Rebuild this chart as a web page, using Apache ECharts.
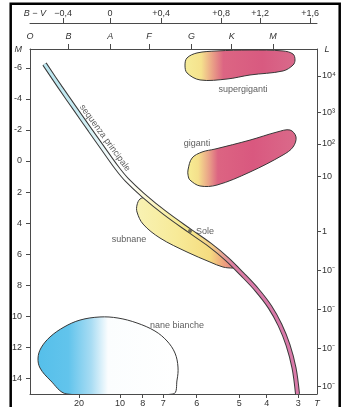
<!DOCTYPE html>
<html><head><meta charset="utf-8">
<script src="https://cdn.jsdelivr.net/npm/echarts@6/dist/echarts.min.js"></script>
<style>html,body{margin:0;padding:0;background:#fff}#c{width:341px;height:407px}</style>
</head><body><div id="c"></div>
<script>
// ---- axes (x in spectral-class units, y in absolute magnitude M) ----
const spectralClasses = ['O', 'B', 'A', 'F', 'G', 'K', 'M'];
const spectralPos = [0, 0.95, 1.98, 2.94, 3.99, 4.98, 6.0];
const bvLabels = ['−0,4', '0', '+0,4', '+0,8', '+1,2', '+1,6'];
const bvPos = [0.815, 1.975, 3.235, 4.716, 5.679, 6.914];
const tempLabels = ['20', '10', '8', '7', '6', '5', '4', '3'];
const tempPos = [1.21, 2.222, 2.783, 3.292, 4.115, 5.168, 5.844, 6.625];
const magTicks = [-6, -4, -2, 0, 2, 4, 6, 8, 10, 12, 14];
const lumLabels = ['10⁴', '10³', '10²', '10', '1', '10⁻', '10⁻', '10⁻', '10⁻'];
const lumPos = [-5.484, -3.116, -1.097, 0.968, 4.561, 7.032, 9.548, 12.084, 14.561];
const xMin = 0, xMax = 7.086, mTop = -7.226, mBottom = 15.03;

// ---- main sequence ----
const msX = [0.358, 0.741, 1.136, 1.481, 1.778, 2.148, 2.395, 2.790, 3.333, 3.951, 4.444, 4.864, 5.235, 5.605, 5.926, 6.173, 6.370, 6.519, 6.605];
const msM = [-6.258, -4.774, -3.290, -2.000, -0.903, 0.452, 1.226, 2.194, 3.355, 4.516, 5.419, 6.323, 7.290, 8.323, 9.419, 10.581, 11.871, 13.355, 15.03];

// ---- regions (outlines) ----
const superX = [3.827, 3.877, 4.123, 4.617, 5.432, 6.247, 6.494, 6.543, 6.494, 6.247, 5.432, 4.864, 4.198, 3.877];
const superM = [-6.19, -6.65, -6.97, -7.10, -7.16, -7.10, -6.90, -6.52, -6.19, -5.81, -5.55, -5.29, -5.23, -5.68];
const giantX = [3.901, 4.000, 4.247, 4.568, 5.432, 6.099, 6.420, 6.568, 6.494, 6.247, 5.432, 4.617, 4.198, 3.951, 3.905];
const giantM = [0.58, -0.19, -0.58, -0.77, -1.35, -1.87, -2.00, -1.55, -0.90, -0.39, 0.71, 1.55, 1.61, 1.23, 0.95];
const subX = [2.716, 2.642, 2.642, 2.790, 3.210, 3.877, 4.444, 4.765, 5.012, 5.136, 4.864, 4.444, 3.951, 3.333, 2.864];
const subM = [2.452, 2.839, 3.290, 4.065, 4.968, 5.871, 6.516, 6.839, 6.903, 6.839, 6.323, 5.419, 4.516, 3.355, 2.387];
const wdX = [0.914, 0.494, 0.247, 0.198, 0.272, 0.494, 0.840, 1.235, 1.728, 2.173, 2.642, 3.086, 3.383, 3.580, 3.654, 3.630, 3.531];
const wdM = [15.03, 14.13, 13.35, 12.71, 12.06, 11.35, 10.71, 10.26, 10.06, 10.13, 10.45, 10.97, 11.61, 12.39, 13.29, 14.13, 15.03];

// ---- Sun and annotations ----
const sunX = 3.951, sunM = 4.516;
const regionNames = ['supergiganti', 'giganti', 'subnane', 'nane bianche', 'sequenza principale'];
const regionX = [5.259, 4.123, 2.444, 3.63, 1.852];
const regionM = [-4.581, -1.161, 5.032, 10.58, -1.484];

const font = 'Liberation Sans, Arial, sans-serif';
const axisColor = '#4a4a4a';
const textColor = '#333';
function idx(arr, v) { let b = 0, d = 1e9; arr.forEach((a, i) => { const e = Math.abs(a - v); if (e < d) { d = e; b = i; } }); return b; }
const rich = { i: { fontStyle: 'italic', fontSize: 9, color: textColor, fontFamily: font } };

function blob(xs, ms, stops, z) {
  return {
    type: 'custom', xAxisIndex: 0, yAxisIndex: 0, silent: true, clip: true, z: z,
    data: [[xs[0], ms[0]]],
    renderItem: function (params, api) {
      const pts = xs.map((x, i) => api.coord([x, ms[i]]));
      return {
        type: 'polygon',
        shape: { points: pts, smooth: 0.35 },
        style: { fill: new echarts.graphic.LinearGradient(0, 0, 1, 0, stops), stroke: '#383838', lineWidth: 1 }
      };
    }
  };
}
const msData = msX.map((x, i) => [x, msM[i]]);

const chart = echarts.init(document.getElementById('c'), null, { renderer: 'canvas' });
chart.setOption({
  animation: false,
  backgroundColor: '#fff',
  grid: { left: 30, top: 49, right: 24, bottom: 13, containLabel: false, outerBoundsMode: 'none' },
  xAxis: [
    {
      type: 'value', min: xMin, max: xMax, position: 'top', offset: 0,
      axisLine: { show: true, onZero: false, lineStyle: { color: axisColor, width: 1 } },
      axisTick: { show: true, customValues: spectralPos.slice(1), length: 5, lineStyle: { color: axisColor } },
      axisLabel: { show: true, customValues: spectralPos, margin: 8, fontSize: 9, color: textColor, fontFamily: font, fontStyle: 'italic',
        formatter: v => spectralClasses[idx(spectralPos, v)] },
      splitLine: { show: false }
    },
    {
      type: 'value', min: xMin, max: xMax, position: 'top', offset: 26,
      axisLine: { show: true, onZero: false, lineStyle: { color: axisColor, width: 1 } },
      axisTick: { show: true, customValues: bvPos, length: 5, lineStyle: { color: axisColor } },
      axisLabel: { show: true, customValues: [0.12].concat(bvPos), margin: 5, fontSize: 9, color: textColor, fontFamily: font, rich: rich,
        formatter: v => (Math.abs(v - 0.12) < 1e-3 ? '{i|B − V}' : bvLabels[idx(bvPos, v)]) },
      splitLine: { show: false }
    },
    {
      type: 'value', min: xMin, max: xMax, position: 'bottom', offset: 0,
      axisLine: { show: true, onZero: false, lineStyle: { color: axisColor, width: 1 } },
      axisTick: { show: true, customValues: tempPos, length: 4, lineStyle: { color: axisColor } },
      axisLabel: { show: true, customValues: tempPos.concat([xMax]), margin: 5, fontSize: 9, color: textColor, fontFamily: font, rich: rich,
        formatter: v => (Math.abs(v - xMax) < 1e-3 ? '{i|T}' : tempLabels[idx(tempPos, v)]) },
      splitLine: { show: false }
    }
  ],
  yAxis: [
    {
      type: 'value', inverse: true, min: mTop, max: mBottom, position: 'left',
      axisLine: { show: true, onZero: false, lineStyle: { color: axisColor, width: 1 } },
      axisTick: { show: true, customValues: magTicks, length: 4, lineStyle: { color: axisColor } },
      axisLabel: { show: true, customValues: [mTop].concat(magTicks), margin: 8, fontSize: 9, color: textColor, fontFamily: font, rich: rich,
        formatter: v => (Math.abs(v - mTop) < 1e-3 ? '{i|M}' : String(magTicks[idx(magTicks, v)])) },
      splitLine: { show: false }
    },
    {
      type: 'value', inverse: true, min: mTop, max: mBottom, position: 'right',
      axisLine: { show: true, onZero: false, lineStyle: { color: axisColor, width: 1 } },
      axisTick: { show: true, customValues: lumPos, length: 4, lineStyle: { color: axisColor } },
      axisLabel: { show: true, customValues: [mTop].concat(lumPos), margin: 5, fontSize: 9, color: textColor, fontFamily: font, rich: rich,
        formatter: v => (Math.abs(v - mTop) < 1e-3 ? '{i| L}' : lumLabels[idx(lumPos, v)]) },
      splitLine: { show: false }
    }
  ],
  visualMap: [{
    type: 'continuous', show: false, seriesIndex: 5, dimension: 0, min: 0, max: 7,
    inRange: { color: ['#bde7f0', '#bde7f0', '#c3e9f1', '#d6f0f5', '#f6fbfb', '#fffffa', '#fcf6c8', '#f8ee9e', '#f6e78a', '#f3cd86', '#de7fa2', '#d97aa9', '#d97aa9', '#d97aa9', '#d97aa9'] }
  }],
  graphic: [{
    type: 'rect', silent: true, z: 100,
    shape: { x: 10.7, y: 3.7, width: 329, height: 420 },
    style: { fill: 'none', stroke: '#000', lineWidth: 2.5 }
  }],
  series: [
    blob(wdX, wdM, [{ offset: 0, color: '#55bfea' }, { offset: 0.22, color: '#62c4ec' }, { offset: 0.38, color: '#a8dcf3' }, { offset: 0.5, color: '#fbfdfe' }, { offset: 1, color: '#ffffff' }], 2),
    blob(superX, superM, [{ offset: 0, color: '#f6ed9a' }, { offset: 0.15, color: '#f5e28d' }, { offset: 0.25, color: '#eaa287' }, { offset: 0.35, color: '#dc6583' }, { offset: 0.7, color: '#d85a80' }, { offset: 1, color: '#d96a8b' }], 2),
    blob(giantX, giantM, [{ offset: 0, color: '#f7ee94' }, { offset: 0.1, color: '#f5e08c' }, { offset: 0.2, color: '#e9a088' }, { offset: 0.28, color: '#dc6482' }, { offset: 0.6, color: '#d9587f' }, { offset: 1, color: '#da6a8a' }], 2),
    blob(subX, subM, [{ offset: 0, color: '#f8f2b4' }, { offset: 0.4, color: '#f7ea98' }, { offset: 0.72, color: '#f5dc80' }, { offset: 0.86, color: '#eea07e' }, { offset: 1, color: '#e07090' }], 2),
    {
      type: 'line', xAxisIndex: 0, yAxisIndex: 0, data: msData, smooth: 0.35, symbol: 'none', silent: true, z: 3,
      lineStyle: { color: '#3a3a3a', width: 5, cap: 'butt' }
    },
    {
      type: 'line', xAxisIndex: 0, yAxisIndex: 0, data: msData, smooth: 0.35, symbol: 'none', silent: true, z: 4,
      lineStyle: { width: 3, cap: 'butt' }
    },
    {
      type: 'scatter', xAxisIndex: 0, yAxisIndex: 0, data: [[sunX, sunM]], symbolSize: 4, z: 6, silent: true,
      itemStyle: { color: '#4a4a4a' },
      label: { show: true, formatter: 'Sole', position: 'right', distance: 4, fontSize: 9, color: textColor, fontFamily: font }
    },
    {
      type: 'scatter', xAxisIndex: 0, yAxisIndex: 0, symbolSize: 0, z: 7, silent: true,
      data: regionNames.map((n, i) => ({
        name: n, value: [regionX[i], regionM[i]],
        label: { rotate: n === 'sequenza principale' ? -54 : 0 }
      })),
      label: { show: true, position: 'inside', formatter: p => p.name, fontSize: 9, color: textColor, fontFamily: font }
    }
  ]
});
</script></body></html>
